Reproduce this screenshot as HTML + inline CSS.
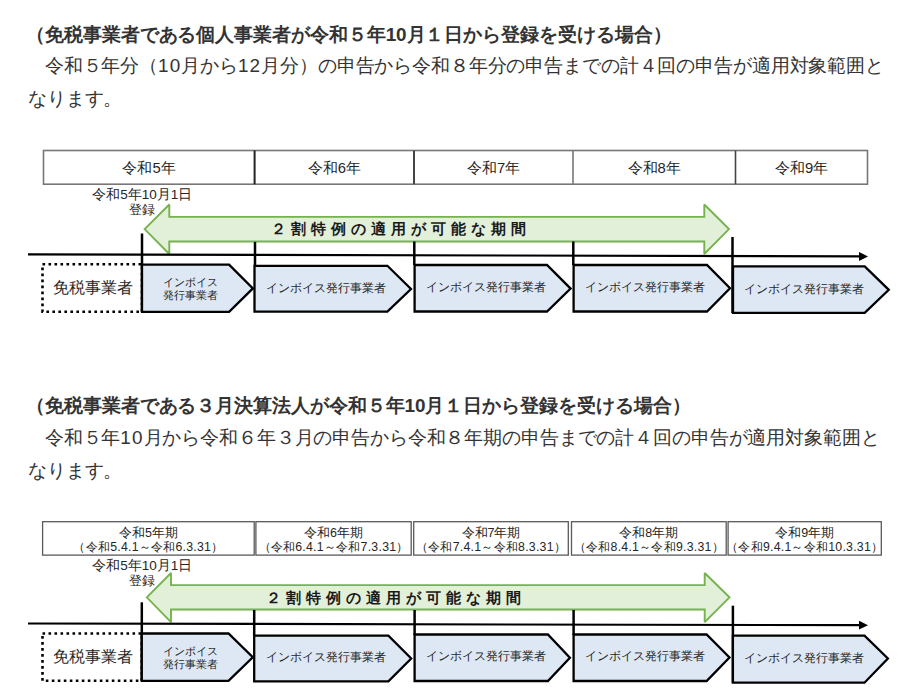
<!DOCTYPE html>
<html lang="ja"><head><meta charset="utf-8"><title>インボイス 2割特例</title>
<style>
html,body{margin:0;padding:0;background:#fff;}
body{width:911px;height:695px;overflow:hidden;position:relative;font-family:"Liberation Sans",sans-serif;color:#333;}
.h{position:absolute;left:26px;font-size:18.9px;font-weight:bold;line-height:34px;white-space:nowrap;margin:0;letter-spacing:-0.07px;}
.p{position:absolute;left:28px;font-size:18.9px;line-height:33.4px;white-space:nowrap;margin:0;text-indent:-2px;letter-spacing:-0.13px;}
.n{letter-spacing:1.1px;}
svg{position:absolute;left:0;top:0;}
svg text{font-family:"Liberation Sans",sans-serif;fill:#262626;dominant-baseline:central;}
svg text.c{text-anchor:middle;}
svg text.b{font-weight:bold;fill:#1a1a1a;}
.tb{fill:none;stroke:#777;stroke-width:1.6;}
.tb2{fill:none;stroke:#5a5a5a;stroke-width:1.3;}
.ga{fill:#e2efd9;stroke:#76b24e;stroke-width:1.9;stroke-miterlimit:2;}
.ch{fill:#dde8f4;stroke:#000;stroke-width:2.3;stroke-linejoin:miter;}
.dot{fill:none;stroke:#000;stroke-width:2.6;stroke-dasharray:2.6 3.4;}
</style></head>
<body>
<h3 class="h" style="top:18px">（免税事業者である個人事業者が令和５年10月１日から登録を受ける場合）</h3>
<p class="p" style="top:49px">　令和５年分（<span class="n">10</span>月から<span class="n">12</span>月分）の申告から令和８年分の申告までの計４回の申告が適用対象範囲と<br>なります。</p>
<h3 class="h" style="top:389px">（免税事業者である３月決算法人が令和５年10月１日から登録を受ける場合）</h3>
<p class="p" style="top:421px">　令和５年<span class="n">10</span>月から令和６年３月の申告から令和８年期の申告までの計４回の申告が適用対象範囲と<br>なります。</p>
<svg width="911" height="695" viewBox="0 0 911 695">
<rect class="tb" x="43.5" y="150.5" width="824" height="33.7"/>
<line x1="254.6" y1="150.5" x2="254.6" y2="184.2" stroke="#222" stroke-width="2"/>
<line x1="414" y1="150.5" x2="414" y2="184.2" stroke="#444" stroke-width="2"/>
<line x1="573" y1="150.5" x2="573" y2="184.2" stroke="#777" stroke-width="1.6"/>
<line x1="735.5" y1="150.5" x2="735.5" y2="184.2" stroke="#444" stroke-width="1.6"/>
<text x="149" y="167.5" font-size="14.8" class="c" >令和5年</text>
<text x="334.3" y="167.5" font-size="14.8" class="c" >令和6年</text>
<text x="493.5" y="167.5" font-size="14.8" class="c" >令和7年</text>
<text x="654.2" y="167.5" font-size="14.8" class="c" >令和8年</text>
<text x="801.5" y="167.5" font-size="14.8" class="c" >令和9年</text>
<text x="142.2" y="194.6" font-size="13.5" class="c" >令和5年10月1日</text>
<text x="142.3" y="209.3" font-size="13" class="c" >登録</text>
<polygon class="ga" points="144.6,229.1 169.3,204.5 169.3,216.9 704.3,216.9 704.3,204.5 729,229.1 704.3,254 704.3,241.5 169.3,241.5 169.3,254"/>
<text x="271" y="228.6" font-size="15" class="b" letter-spacing="5">２割特例の適用が可能な期間</text>
<line x1="28" y1="254.3" x2="860" y2="256.4" stroke="#000" stroke-width="2.2"/>
<polygon points="859,252 868,256.4 859,261" fill="#000"/>
<line x1="142" y1="233.5" x2="142" y2="312" stroke="#000" stroke-width="2.5"/>
<line x1="255" y1="241.9" x2="255" y2="266" stroke="#000" stroke-width="2.5"/>
<line x1="414.3" y1="241.5" x2="414.3" y2="265" stroke="#000" stroke-width="2.5"/>
<line x1="573.3" y1="241.5" x2="573.3" y2="265" stroke="#000" stroke-width="2.5"/>
<line x1="732.5" y1="237" x2="732.5" y2="313" stroke="#000" stroke-width="2.5"/>
<rect class="dot" x="42.5" y="264.2" width="99.5" height="47.5"/>
<polygon class="ch" points="142,264.6 229.1,264.6 252.9,288.4 229.1,311.8 142,311.8"/>
<polygon class="ch" points="254.5,265.8 387.4,265.8 411,289 387.4,311.7 254.5,311.7"/>
<polygon class="ch" points="414.6,265 547,265 570.6,288.6 547,311.5 414.6,311.5"/>
<polygon class="ch" points="573.6,265 707,265 730,288.2 707,311.5 573.6,311.5"/>
<polygon class="ch" points="733,266.4 864.7,266.4 888.8,289.8 864.7,312.9 733,312.9"/>
<text x="93.2" y="287.3" font-size="16" class="c" >免税事業者</text>
<text x="190" y="281.5" font-size="10.8" class="c" >インボイス</text>
<text x="190" y="295.3" font-size="10.8" class="c" >発行事業者</text>
<text x="326.4" y="287.8" font-size="12" class="c" >インボイス発行事業者</text>
<text x="485.5" y="286.8" font-size="12" class="c" >インボイス発行事業者</text>
<text x="645" y="286.8" font-size="12" class="c" >インボイス発行事業者</text>
<text x="804.3" y="289.1" font-size="12" class="c" >インボイス発行事業者</text>
<rect class="tb2" x="42.6" y="521.7" width="211.6" height="33.4"/>
<rect class="tb2" x="255.9" y="521.7" width="155.29999999999998" height="33.4"/>
<rect class="tb2" x="413.7" y="521.7" width="154.59999999999997" height="33.4"/>
<rect class="tb2" x="571.5" y="521.7" width="154.70000000000005" height="33.4"/>
<rect class="tb2" x="728.1" y="521.7" width="153.19999999999993" height="33.4"/>
<text x="148.4" y="533.2" font-size="12.5" class="c" >令和5年期</text>
<text x="148.4" y="546.9" font-size="12.3" class="c" letter-spacing="0.25">（令和5.4.1～令和6.3.31）</text>
<text x="333.55" y="533.2" font-size="12.5" class="c" >令和6年期</text>
<text x="333.55" y="546.9" font-size="12.3" class="c" letter-spacing="0.25">（令和6.4.1～令和7.3.31）</text>
<text x="491.0" y="533.2" font-size="12.5" class="c" >令和7年期</text>
<text x="491.0" y="546.9" font-size="12.3" class="c" letter-spacing="0.25">（令和7.4.1～令和8.3.31）</text>
<text x="648.85" y="533.2" font-size="12.5" class="c" >令和8年期</text>
<text x="648.85" y="546.9" font-size="12.3" class="c" letter-spacing="0.25">（令和8.4.1～令和9.3.31）</text>
<text x="804.7" y="533.2" font-size="12.5" class="c" >令和9年期</text>
<text x="804.7" y="546.9" font-size="12.3" class="c" letter-spacing="0.25">（令和9.4.1～令和10.3.31）</text>
<text x="142.2" y="565" font-size="13.5" class="c" >令和5年10月1日</text>
<text x="142.3" y="580.3" font-size="13" class="c" >登録</text>
<polygon class="ga" points="146.8,597.3 171,573 171,585.1 704.7,585.1 704.7,573 729.5,597.3 704.7,622.2 704.7,609.5 171,609.5 171,622.2"/>
<text x="266" y="597" font-size="15" class="b" letter-spacing="5">２割特例の適用が可能な期間</text>
<line x1="28" y1="623.5" x2="860" y2="625.2" stroke="#000" stroke-width="2.2"/>
<polygon points="859,620.8 868,625.2 859,629.6" fill="#000"/>
<line x1="141.8" y1="602.3" x2="141.8" y2="681" stroke="#000" stroke-width="2.5"/>
<line x1="254.2" y1="610" x2="254.2" y2="636" stroke="#000" stroke-width="2.5"/>
<line x1="414.6" y1="610" x2="414.6" y2="635" stroke="#000" stroke-width="2.5"/>
<line x1="573.6" y1="610" x2="573.6" y2="635" stroke="#000" stroke-width="2.5"/>
<line x1="732.9" y1="605.7" x2="732.9" y2="683" stroke="#000" stroke-width="2.5"/>
<rect class="dot" x="42.5" y="633.5" width="99.3" height="47.3"/>
<polygon class="ch" points="141.8,633.5 228.5,633.5 252.8,657.3 228.5,680.8 141.8,680.8"/>
<polygon class="ch" points="254.2,635.6 388.4,635.6 411.2,658.5 388.4,681.3 254.2,681.3"/>
<polygon class="ch" points="414.6,634.5 547.9,634.5 569.9,657.8 547.9,681 414.6,681"/>
<polygon class="ch" points="573.6,634.5 706.6,634.5 729.5,657.5 706.6,681 573.6,681"/>
<polygon class="ch" points="732.9,635.6 864.5,635.6 887.9,658.5 864.5,682.7 732.9,682.7"/>
<text x="93.2" y="656.7" font-size="16" class="c" >免税事業者</text>
<text x="190" y="650.5" font-size="10.8" class="c" >インボイス</text>
<text x="190" y="664.3" font-size="10.8" class="c" >発行事業者</text>
<text x="326.4" y="656.8" font-size="12" class="c" >インボイス発行事業者</text>
<text x="485.5" y="655.8" font-size="12" class="c" >インボイス発行事業者</text>
<text x="645" y="655.8" font-size="12" class="c" >インボイス発行事業者</text>
<text x="804.3" y="658.1" font-size="12" class="c" >インボイス発行事業者</text>
</svg>
</body></html>
